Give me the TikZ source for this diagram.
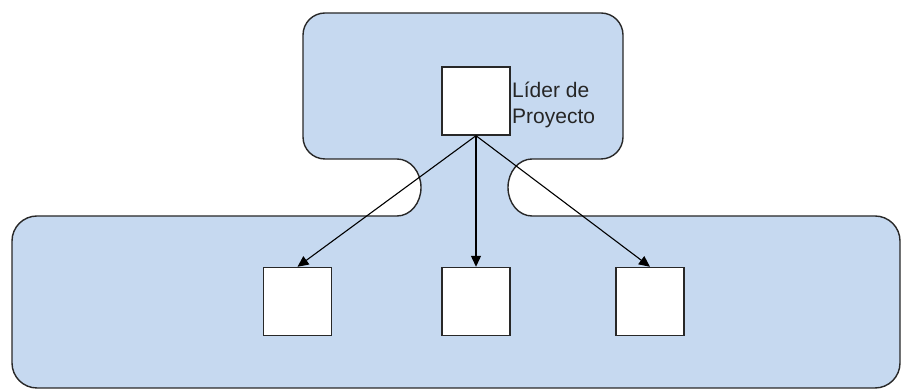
\documentclass[tikz,border=0pt]{standalone}
\usepackage{fontspec}
\setmainfont{Liberation Sans}
\usetikzlibrary{arrows.meta}
\definecolor{areablue}{RGB}{198,217,240}
\definecolor{edgegray}{RGB}{40,40,40}
\begin{document}
\begin{tikzpicture}[x=1pt,y=1pt,
  member/.style={draw=edgegray,line width=1.4pt,fill=white,minimum width=68pt,minimum height=68pt,inner sep=0pt},
  link/.style={draw=black,line width=1.1pt,-{Triangle[length=11pt,width=10pt]}},
  area/.style={draw=edgegray,line width=1.4pt,fill=areablue}]
\useasboundingbox (0,0) rectangle (902,390);
\path[area] (325,377) -- (601,377) arc[start angle=90,end angle=0,radius=22]
  -- (623,253) arc[start angle=0,end angle=-90,radius=22]
  -- (532,231) arc[start angle=90,end angle=270,x radius=24,y radius=28.5]
  -- (875,174) arc[start angle=90,end angle=0,radius=25]
  -- (900,27) arc[start angle=0,end angle=-90,radius=25]
  -- (37,2) arc[start angle=270,end angle=180,radius=25]
  -- (12,149) arc[start angle=180,end angle=90,radius=25]
  -- (397,174) arc[start angle=-90,end angle=90,x radius=24,y radius=28.5]
  -- (325,231) arc[start angle=270,end angle=180,radius=22]
  -- (303,355) arc[start angle=180,end angle=90,radius=22] -- cycle;
\node[member] (lead) at (476,289) {};
\node[anchor=west,align=left,font=\fontsize{21}{26}\selectfont,text=black!85,inner sep=0pt] (leadlabel) at (512,285) {Líder de\\Proyecto};
\node[member] (m1) at (297.5,88.5) {};
\node[member] (m2) at (476,88.5) {};
\node[member] (m3) at (650,88.5) {};
\draw[link] (lead.south) -- (m1.north);
\draw[link] (lead.south) -- (m2.north);
\draw[link] (lead.south) -- (m3.north);
\end{tikzpicture}
\end{document}
